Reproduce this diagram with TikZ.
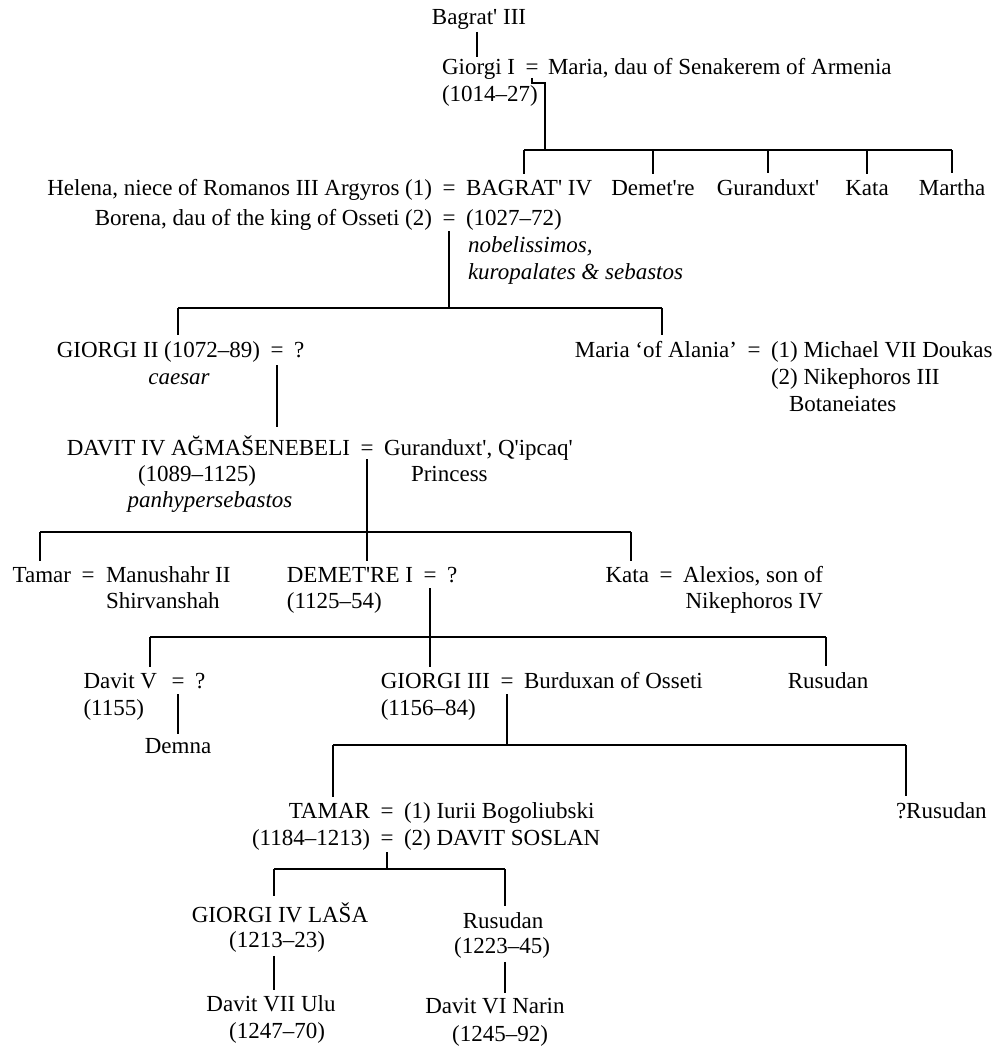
\documentclass[tikz,border=0pt]{standalone}
\usepackage{fontspec}
\setmainfont{Liberation Serif}
\newcommand{\apo}{\textquotesingle}
\begin{document}
\begin{tikzpicture}[x=1pt,y=-1pt,
  every node/.style={inner sep=0pt, outer sep=0pt, font=\fontsize{23}{27}\selectfont},
  ti/.style={font=\fontsize{23}{27}\selectfont\itshape},
  ln/.style={line width=1.5pt},
  drop/.style={ln, shorten >=6pt},
]
\useasboundingbox (0,0) rectangle (1000,1046);

% --- Bagrat' III and Giorgi I
\node[anchor=base] (bagrat3) at (479,25) {Bagrat\apo{} III};
\node[anchor=base] (eq1) at (532,75) {=};
\node[anchor=base west] (giorgi1) at (442,75) {Giorgi I};
\node[anchor=base west] (maria1) at (548,75) {Maria, dau of Senakerem of Armenia};
\node[anchor=base west] (giorgi1d) at (442,102) {(1014–27)};
\draw[ln, shorten <=2pt, shorten >=3pt] (bagrat3.south -| 477,0) -- (477,0 |- giorgi1.north);

% --- children of Giorgi I
\coordinate (b1L) at (524,150);
\coordinate (b1R) at (952,150);
\coordinate (b1J) at (545,150);
\draw[ln] ([yshift=-3pt]eq1.south) -- ++(0,5) -| (b1J);
\draw[ln] (b1L) -- (b1R);

\node[anchor=base] (eqH) at (449,195) {=};
\node[anchor=base east] (helena) at (432,195) {Helena, niece of Romanos III Argyros (1)};
\node[anchor=base west] (bagrat4) at (466,195) {BAGRAT\apo{} IV};
\node[anchor=base] (demetre0) at (653,195) {Demet\apo{}re};
\node[anchor=base] (guranduxt0) at (768,195) {Guranduxt\apo{}};
\node[anchor=base] (kata0) at (867,195) {Kata};
\node[anchor=base] (martha) at (952,195) {Martha};
\node[anchor=base] (eqB) at (449,225) {=};
\node[anchor=base east] (borena) at (432,225) {Borena, dau of the king of Osseti (2)};
\node[anchor=base west] (bagrat4d) at (466,225) {(1027–72)};
\node[anchor=base west, ti] (nobel) at (468,252) {nobelissimos,};
\node[anchor=base west, ti] (kuro) at (468,279) {kuropalates \& sebastos};

\draw[drop] (b1L) -- (b1L |- bagrat4.north);
\draw[drop] (demetre0.center |- b1L) -- (demetre0.north);
\draw[drop] (guranduxt0.center |- b1L) -- (guranduxt0.north);
\draw[drop] (kata0.center |- b1L) -- (kata0.north);
\draw[drop] (b1R) -- (martha.north);

% --- children of Bagrat' IV
\coordinate (b2L) at (178,308);
\coordinate (b2R) at (662,308);
\draw[ln] ([yshift=-6pt]eqB.south) -- (eqB.south |- b2L);
\draw[ln] (b2L) -- (b2R);

\node[anchor=base] (eqG2) at (277,357) {=};
\node[anchor=base east] (giorgi2) at (260,357) {GIORGI II (1072–89)};
\node[anchor=base west] (g2wife) at (294,357) {?};
\node[anchor=base, ti] (caesar) at (179,384) {caesar};
\node[anchor=base] (eqMA) at (754,357) {=};
\node[anchor=base east] (mariaA) at (737,357) {Maria ‘of Alania’};
\node[anchor=base west] (michael) at (771,357) {(1) Michael VII Doukas};
\node[anchor=base west] (nikeph3) at (771,384) {(2) Nikephoros III};
\node[anchor=base west] (botan) at (789,411) {Botaneiates};

\draw[drop] (b2L) -- (b2L |- giorgi2.north);
\draw[drop] (b2R) -- (b2R |- mariaA.north);

% --- Davit IV
\node[anchor=base] (eqD4) at (367,455) {=};
\node[anchor=base east] (davit4) at (350,455) {DAVIT IV AĞMAŠENEBELI};
\node[anchor=base west] (guranduxtQ) at (384,455) {Guranduxt\apo, Q\apo ipcaq\apo};
\node[anchor=base west] (princess) at (411,481) {Princess};
\node[anchor=base] (davit4d) at (197,481) {(1089–1125)};
\node[anchor=base, ti] (panhyp) at (210,507) {panhypersebastos};

\draw[ln, shorten <=8pt, shorten >=8pt] (eqG2.south) -- (eqG2.south |- davit4.north);

% --- children of Davit IV
\coordinate (b3L) at (40,532);
\coordinate (b3R) at (631,532);
\draw[ln] (b3L) -- (b3R);

\node[anchor=base] (eqT) at (88,582) {=};
\node[anchor=base east] (tamar1) at (71,582) {Tamar};
\node[anchor=base west] (manushahr) at (106,582) {Manushahr II};
\node[anchor=base west] (shirvan) at (106,608) {Shirvanshah};
\node[anchor=base] (eqDm) at (430,582) {=};
\node[anchor=base east] (demetre1) at (413,582) {DEMET\apo{}RE I};
\node[anchor=base west] (dm1wife) at (447,582) {?};
\node[anchor=base west] (demetre1d) at ([yshift=-26pt]demetre1.base west) {(1125–54)};
\node[anchor=base] (eqK) at (666,582) {=};
\node[anchor=base east] (kata1) at (649,582) {Kata};
\node[anchor=base west] (alexios) at (683,582) {Alexios, son of};
\node[anchor=base east] (nikeph4) at ([yshift=-26pt]alexios.base east) {Nikephoros IV};

\draw[ln, shorten <=4pt, shorten >=6pt] (eqD4.south) -- (eqD4.south |- demetre1.north);
\draw[drop] (b3L) -- (b3L |- tamar1.north);
\draw[drop] (b3R) -- (b3R |- kata1.north);

% --- children of Demet're I
\coordinate (b4L) at (150,637);
\coordinate (b4R) at (826,637);
\draw[ln] (b4L) -- (b4R);

\node[anchor=base] (eqDv5) at (178,688) {=};
\node[anchor=base east] (davit5) at (157,688) {Davit V};
\node[anchor=base west] (dv5wife) at (195,688) {?};
\node[anchor=base west] (davit5d) at ([yshift=-27pt]davit5.base west) {(1155)};
\node[anchor=base] (demna) at (178,753) {Demna};
\node[anchor=base] (eqG3) at (507,688) {=};
\node[anchor=base east] (giorgi3) at (490,688) {GIORGI III};
\node[anchor=base west] (burduxan) at (524,688) {Burduxan of Osseti};
\node[anchor=base west] (giorgi3d) at ([yshift=-27pt]giorgi3.base west) {(1156–84)};
\node[anchor=base] (rusudan1) at (828,688) {Rusudan};

\draw[ln, shorten <=6pt, shorten >=6pt] (eqDm.south) -- (eqDm.south |- giorgi3.north);
\draw[drop] (b4L) -- (b4L |- davit5.north);
\draw[drop] (b4R) -- (b4R |- rusudan1.north);
\draw[ln, shorten <=6pt, shorten >=4pt] (eqDv5.south) -- (eqDv5.south |- demna.north);

% --- children of Giorgi III
\coordinate (b5L) at (333,745);
\coordinate (b5R) at (906,745);
\draw[ln] ([yshift=-6pt]eqG3.south) -- (eqG3.south |- b5L);
\draw[ln] (b5L) -- (b5R);

\node[anchor=base] (eqTm) at (387,818) {=};
\node[anchor=base east] (tamar2) at (370,818) {TAMAR};
\node[anchor=base west] (iurii) at (404,818) {(1) Iurii Bogoliubski};
\node[anchor=base] (eqTm2) at (387,845) {=};
\node[anchor=base east] (tamar2d) at (370,845) {(1184–1213)};
\node[anchor=base west] (soslan) at (404,845) {(2) DAVIT SOSLAN};
\node[anchor=base west] (rusudanQ) at (896,818) {?Rusudan};

\draw[drop] (b5L) -- (b5L |- tamar2.north);
\draw[drop] (b5R) -- (b5R |- rusudanQ.north);

% --- children of Tamar
\coordinate (b6L) at (274,869);
\coordinate (b6R) at (505,869);
\draw[ln] ([yshift=-7pt]eqTm2.south) -- (eqTm2.south |- b6L);
\draw[ln] (b6L) -- (b6R);

\node[anchor=base] (giorgi4) at (280,922) {GIORGI IV LAŠA};
\node[anchor=base] (giorgi4d) at (277,947) {(1213–23)};
\node[anchor=base] (rusudan2) at (503,928) {Rusudan};
\node[anchor=base] (rusudan2d) at (502,953) {(1223–45)};
\node[anchor=base] (davit7) at (271,1011) {Davit VII Ulu};
\node[anchor=base] (davit7d) at (277,1038) {(1247–70)};
\node[anchor=base] (davit6) at (495,1013) {Davit VI Narin};
\node[anchor=base] (davit6d) at (500,1041) {(1245–92)};

\draw[drop] (b6L) -- (b6L |- giorgi4.north);
\draw[drop] (b6R) -- (b6R |- rusudan2.north);
\draw[ln, shorten <=4pt, shorten >=5pt] (b6L |- giorgi4d.south) -- (b6L |- davit7.north);
\draw[ln, shorten <=4pt, shorten >=5pt] (b6R |- rusudan2d.south) -- (b6R |- davit6.north);
\end{tikzpicture}
\end{document}
